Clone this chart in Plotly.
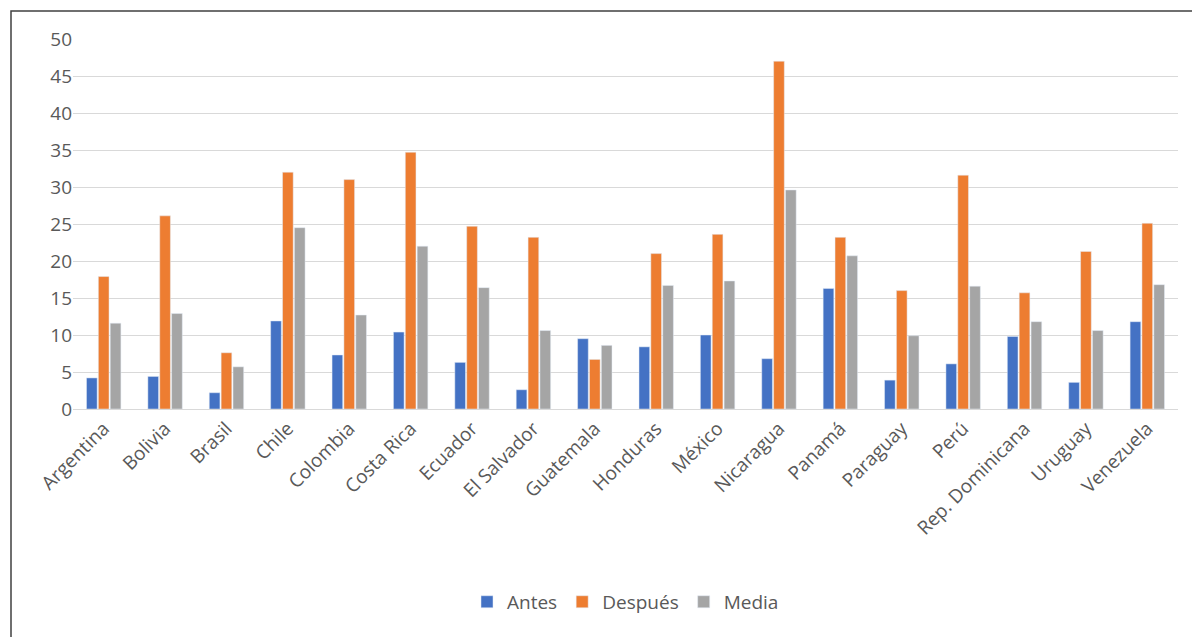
import plotly.graph_objects as go

paises = ["Argentina", "Bolivia", "Brasil", "Chile", "Colombia", "Costa Rica", "Ecuador",
          "El Salvador", "Guatemala", "Honduras", "México", "Nicaragua", "Panamá",
          "Paraguay", "Perú", "Rep. Dominicana", "Uruguay", "Venezuela"]
antes = [4.2, 4.4, 2.2, 11.9, 7.3, 10.4, 6.3, 2.6, 9.5, 8.4, 10.0, 6.8, 16.3, 3.9, 6.1, 9.8, 3.6, 11.8]
despues = [17.9, 26.1, 7.6, 32.0, 31.0, 34.7, 24.7, 23.2, 6.7, 21.0, 23.6, 47.0, 23.2, 16.0, 31.6, 15.7, 21.3, 25.1]
media = [11.6, 12.9, 5.7, 24.5, 12.7, 22.0, 16.4, 10.6, 8.6, 16.7, 17.3, 29.6, 20.7, 9.9, 16.6, 11.8, 10.6, 16.8]

fig = go.Figure()
fig.add_bar(x=paises, y=antes, name="Antes", marker_color="#4472C4")
fig.add_bar(x=paises, y=despues, name="Después", marker_color="#ED7D31")
fig.add_bar(x=paises, y=media, name="Media", marker_color="#A5A5A5")

L, R, T, B = 65, 30, 31, 236
pw, ph = 1200 - L - R, 637 - T - B
# border round the whole picture
fig.add_shape(type="rect", xref="paper", yref="paper",
              x0=(3 - L) / pw, x1=(1196 - L) / pw,
              y0=-(634 - (T + ph)) / ph, y1=(T + ph - 3) / ph,
              line=dict(color="#404040", width=1.5), layer="below")

fig.update_layout(
    width=1200, height=637, margin=dict(l=L, r=R, t=T, b=B, autoexpand=False),
    paper_bgcolor="white", plot_bgcolor="white",
    font=dict(family="Open Sans", size=19, color="#595959"),
    barmode="group", bargap=0.42, bargroupgap=0.1,
    legend=dict(orientation="h", x=0.5, xanchor="center", y=-0.47, yanchor="top",
                font=dict(size=19)),
    xaxis=dict(tickangle=-45, showline=True, linecolor="#D9D9D9", automargin=False),
    yaxis=dict(range=[0, 50], dtick=5, gridcolor="#D9D9D9", zeroline=False, automargin=False),
)
fig.write_html("out.html")
